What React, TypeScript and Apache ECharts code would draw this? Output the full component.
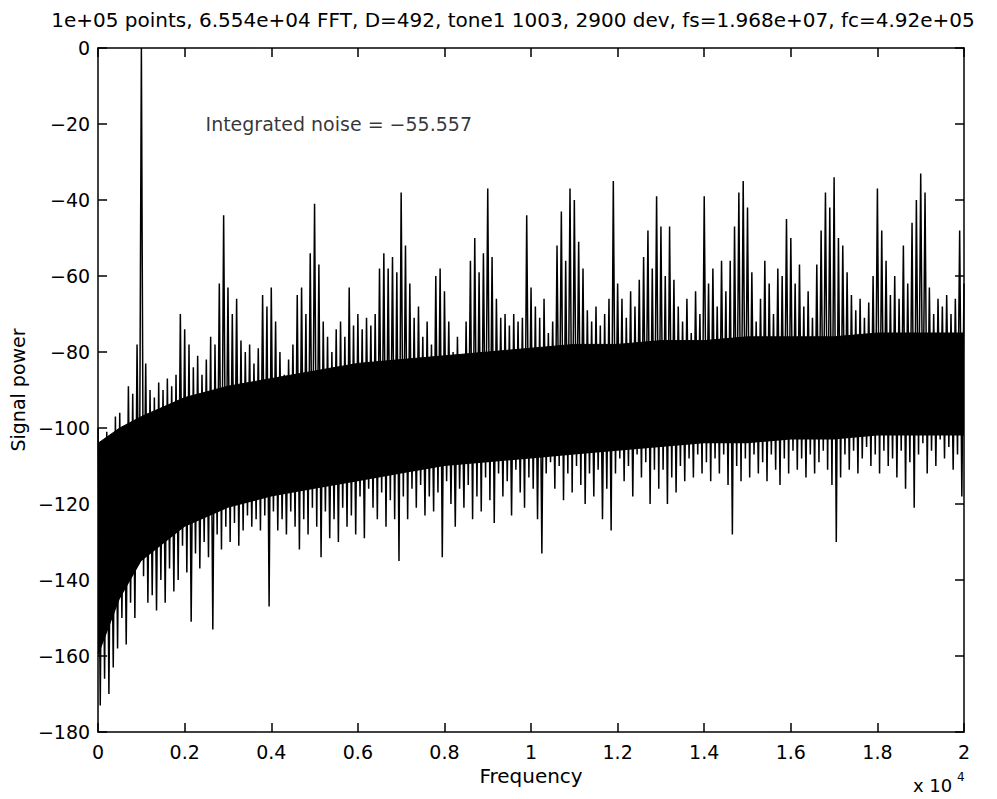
import React, { useEffect, useRef } from 'react';
import * as echarts from 'echarts';

const TITLE = '1e+05 points, 6.554e+04 FFT, D=492, tone1 1003, 2900 dev, fs=1.968e+07, fc=4.92e+05';
const NOISE_LABEL = 'Integrated noise = \u221255.557';
const X_NAME = 'Frequency';
const Y_NAME = 'Signal power';
const X_SCALE_NOTE = 'x 10';
const X_SCALE_EXP = '4';

// frequency spacing of the read-off spectrum samples (Hz)
const BIN_HZ = 100;

// local maxima of the spectrum, one per bin starting at 0 Hz (dB)
const peakLevels = [
  -100, -104, -101, -105, -97, -96, -100, -89, -91, -78,
  0, -83, -90, -92, -88, -90, -87, -89, -86, -70,
  -74, -78, -84, -81, -86, -82, -76, -78, -62, -44,
  -63, -70, -66, -77, -80, -78, -83, -79, -65, -68,
  -63, -72, -80, -86, -82, -78, -65, -63, -70, -54,
  -41, -57, -72, -76, -80, -74, -72, -76, -63, -73,
  -70, -74, -71, -73, -70, -58, -54, -58, -55, -59,
  -38, -52, -62, -71, -68, -76, -72, -78, -60, -58,
  -64, -72, -80, -76, -83, -72, -56, -50, -59, -54,
  -37, -55, -66, -71, -70, -73, -70, -72, -71, -44,
  -63, -68, -71, -66, -75, -72, -52, -43, -56, -37,
  -40, -51, -58, -69, -72, -68, -73, -70, -66, -35,
  -62, -66, -71, -64, -68, -61, -55, -48, -58, -39,
  -47, -60, -47, -61, -68, -72, -66, -75, -64, -70,
  -39, -62, -58, -68, -56, -64, -56, -47, -38, -35,
  -42, -59, -72, -66, -56, -62, -70, -58, -60, -45,
  -50, -62, -57, -68, -64, -71, -57, -48, -38, -42,
  -34, -50, -52, -59, -65, -69, -66, -71, -67, -60,
  -37, -48, -56, -65, -60, -66, -52, -62, -46, -40,
  -33, -38, -63, -70, -66, -68, -65, -70, -66, -48,
  -62,
];

// local minima of the spectrum, one per bin starting at 50 Hz (dB)
const troughLevels = [
  -173, -166, -170, -163, -158, -150, -157, -146, -150, -135,
  -139, -146, -144, -148, -140, -146, -137, -143, -140, -131,
  -138, -151, -133, -137, -130, -134, -153, -128, -132, -126,
  -130, -125, -131, -127, -123, -126, -124, -127, -123, -147,
  -122, -127, -124, -128, -122, -126, -132, -124, -128, -121,
  -126, -134, -122, -129, -124, -130, -121, -126, -123, -128,
  -118, -129, -116, -121, -124, -117, -126, -119, -124, -135,
  -118, -124, -116, -121, -115, -123, -118, -122, -117, -134,
  -114, -120, -126, -116, -121, -115, -124, -118, -122, -113,
  -119, -125, -112, -118, -114, -123, -111, -117, -121, -113,
  -116, -124, -133, -112, -109, -116, -110, -119, -112, -117,
  -110, -115, -120, -112, -118, -111, -124, -116, -127, -112,
  -108, -114, -110, -118, -107, -113, -109, -120, -111, -116,
  -111, -120, -113, -117, -110, -114, -108, -113, -107, -112,
  -109, -114, -108, -112, -107, -115, -128, -110, -114, -108,
  -113, -107, -112, -109, -114, -107, -111, -115, -108, -112,
  -106, -111, -108, -113, -107, -112, -109, -106, -111, -115,
  -130, -113, -107, -111, -106, -112, -108, -105, -110, -107,
  -112, -106, -110, -108, -113, -106, -116, -109, -121, -107,
  -104, -112, -106, -110, -103, -108, -105, -111, -107, -118,
];

// solid core of the noise band
const coreFreqs = [0, 500, 1000, 2000, 3000, 4000, 5000, 6000, 7000, 8000, 9000, 10000, 11000, 12000, 13000, 14000, 15000, 16000, 17000, 18000, 19000, 20000];
const coreTop = [-104, -100, -97, -92, -89, -87, -85, -83, -82, -81, -80, -79, -78, -78, -77, -77, -76, -76, -76, -75, -75, -75];
const coreBottom = [-160, -145, -135, -126, -121, -118, -116, -114, -112, -110, -109, -108, -107, -106, -105, -104, -104, -103, -103, -102, -102, -102];

const noiseLabelAt = [2470, -20];

const xTickLabels = ['0', '0.2', '0.4', '0.6', '0.8', '1', '1.2', '1.4', '1.6', '1.8', '2'];

const FONT = 'DejaVu Sans';

function frame(position: string, withLabels: boolean, extra: any) {
  return {
    position,
    z: 10,
    axisLine: { show: true, onZero: false, lineStyle: { color: '#000', width: 1.5 } },
    axisTick: { show: true, inside: true, length: 9, lineStyle: { color: '#000', width: 1.5 } },
    splitLine: { show: false },
    ...extra,
    ...(withLabels ? {} : { axisLabel: { show: false } }),
  };
}

export default function App() {
  const ref = useRef<HTMLDivElement>(null);
  useEffect(() => {
    document.body.style.margin = '0';
    const chart = echarts.init(ref.current!, undefined, { renderer: 'svg' });

    const spectrum: number[][] = [];
    for (let i = 0; i < peakLevels.length; i++) {
      spectrum.push([i * BIN_HZ, peakLevels[i]]);
      if (i < troughLevels.length) spectrum.push([i * BIN_HZ + BIN_HZ / 2, troughLevels[i]]);
    }
    const topData = coreFreqs.map((f, i) => [f, coreTop[i]]);
    const botData = coreFreqs.map((f, i) => [f, coreBottom[i]]);

    const labelStyle = { color: '#000', fontSize: 19, fontFamily: FONT };
    const xBase = { type: 'value', min: 0, max: 20000, interval: 2000 };
    const yBase = { type: 'value', min: -180, max: 0, interval: 20 };

    chart.setOption({
      animation: false,
      backgroundColor: '#fff',
      title: {
        text: TITLE,
        left: 508,
        top: 5,
        textAlign: 'center',
        textStyle: { color: '#000', fontSize: 20, fontWeight: 'normal', fontFamily: FONT },
      },
      grid: { left: 95, right: 33, top: 48, bottom: 67, containLabel: false },
      xAxis: [
        frame('bottom', true, {
          ...xBase,
          axisLabel: { ...labelStyle, margin: 10, formatter: (v: number) => xTickLabels[Math.round(v / 2000)] },
          name: X_NAME, nameLocation: 'middle', nameGap: 30,
          nameTextStyle: { color: '#000', fontSize: 20, fontFamily: FONT },
        }),
        frame('top', false, { ...xBase }),
      ],
      yAxis: [
        frame('left', true, {
          ...yBase,
          axisLabel: { ...labelStyle, margin: 8, formatter: (v: number) => (v < 0 ? '\u2212' + Math.abs(v) : String(v)) },
          name: Y_NAME, nameLocation: 'middle', nameGap: 66,
          nameTextStyle: { color: '#000', fontSize: 19, fontFamily: FONT },
        }),
        frame('right', false, { ...yBase }),
      ],
      series: [
        {
          type: 'line', data: topData, symbol: 'none', silent: true,
          lineStyle: { color: '#000', width: 1 },
          areaStyle: { color: '#000', opacity: 1, origin: 'start' },
          z: 1,
        },
        {
          type: 'line', data: botData, symbol: 'none', silent: true,
          lineStyle: { color: '#000', width: 0 },
          areaStyle: { color: '#fff', opacity: 1, origin: 'start' },
          z: 1,
        },
        {
          type: 'line', data: spectrum, symbol: 'none', silent: true,
          lineStyle: { color: '#000', width: 1.5 },
          z: 2,
        },
        {
          type: 'scatter', data: [noiseLabelAt], symbolSize: 1, silent: true,
          itemStyle: { color: 'rgba(0,0,0,0)' },
          label: {
            show: true, position: 'right', distance: 0, formatter: NOISE_LABEL,
            color: '#000', fontSize: 19, fontFamily: FONT, align: 'left', verticalAlign: 'middle',
          },
          z: 3,
        },
      ],
      graphic: [
        { type: 'text', left: 913, top: 776, style: { text: X_SCALE_NOTE, fill: '#000', fontSize: 18, fontFamily: FONT } },
        { type: 'text', left: 957, top: 771, style: { text: X_SCALE_EXP, fill: '#000', fontSize: 12, fontFamily: FONT } },
      ],
    });
    return () => chart.dispose();
  }, []);
  return <div ref={ref} style={{ position: 'absolute', left: 0, top: 0, width: 997, height: 799 }} />;
}
